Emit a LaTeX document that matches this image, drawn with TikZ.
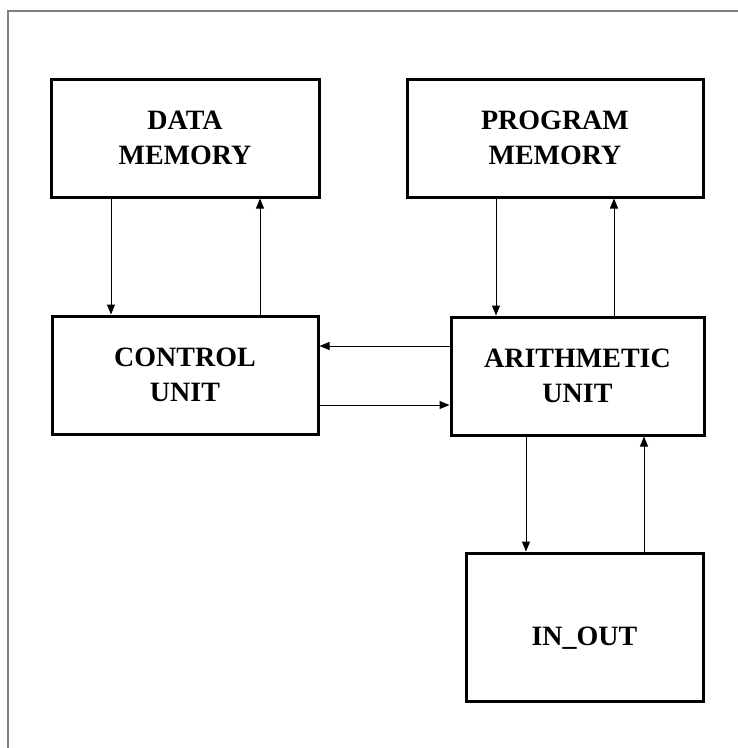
\documentclass[tikz,border=0pt]{standalone}
\usepackage{fontspec}
\setmainfont{Liberation Serif}
\usetikzlibrary{arrows.meta}
\begin{document}
\begin{tikzpicture}[x=1pt,y=-1pt,
  txt/.style={align=center,font=\fontsize{28}{35}\selectfont\bfseries},
  blk/.style={draw=black,line width=3pt,inner sep=0pt,txt},
  arr/.style={line width=1pt,-{Triangle[length=10pt,width=8pt]}}]
\useasboundingbox (0,0) rectangle (738,748);
\draw[line width=2pt,draw=black!50] (8,748) -- (8,11) -- (738,11);
\node[blk,minimum width=268pt,minimum height=118pt] (dm) at (185,138) {DATA\\MEMORY};
\node[blk,minimum width=296pt,minimum height=118pt] (pm) at (555,138) {PROGRAM\\MEMORY};
\node[blk,minimum width=266pt,minimum height=118pt] (cu) at (185,375) {CONTROL\\UNIT};
\node[blk,minimum width=253pt,minimum height=118pt] (au) at (577.5,376) {ARITHMETIC\\UNIT};
\node[blk,minimum width=237pt,minimum height=148pt,
  label={[txt,yshift=-11pt]center:IN\_OUT}] (io) at (584.5,627) {};
\coordinate (x1) at (111,0);
\coordinate (x2) at (260,0);
\coordinate (x3) at (496,0);
\coordinate (x4) at (614,0);
\coordinate (x5) at (526,0);
\coordinate (x6) at (644,0);
\coordinate (y1) at (0,346);
\coordinate (y2) at (0,405);
\draw[arr] (dm.south -| x1) -- (cu.north -| x1);
\draw[arr] (cu.north -| x2) -- (dm.south -| x2);
\draw[arr] (pm.south -| x3) -- (au.north -| x3);
\draw[arr] (au.north -| x4) -- (pm.south -| x4);
\draw[arr] (au.south -| x5) -- (io.north -| x5);
\draw[arr] (io.north -| x6) -- (au.south -| x6);
\draw[arr] (au.west |- y1) -- (cu.east |- y1);
\draw[arr] (cu.east |- y2) -- (au.west |- y2);
\end{tikzpicture}
\end{document}
